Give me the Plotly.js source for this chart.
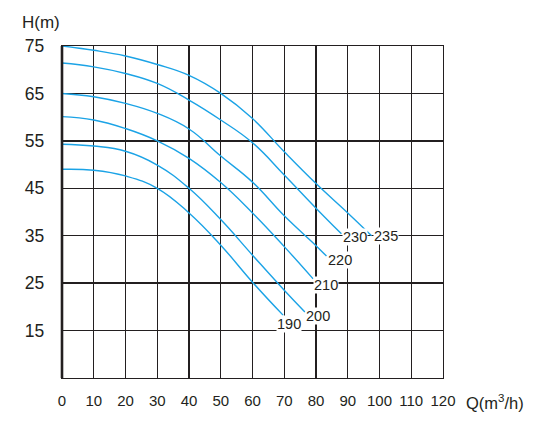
<!DOCTYPE html>
<html>
<head>
<meta charset="utf-8">
<script src="https://cdn.plot.ly/plotly-3.0.1.min.js"></script>
<style>html,body{margin:0;padding:0;background:#fff;}</style>
</head>
<body>
<div id="chart" style="width:552px;height:422px;"></div>
<script>
// ---- data ----
const curveNames = ["190", "200", "210", "220", "230", "235"];
const q190 = [0, 10, 20, 30, 40, 50, 60, 69.7];
const h190 = [49, 48.8, 47.6, 45, 39.8, 33, 25.2, 18.2];
const q200 = [0, 10, 20, 30, 40, 50, 60, 70, 76.5];
const h200 = [54.3, 53.9, 52.8, 49.9, 45, 38.4, 30.9, 23.5, 18.9];
const q210 = [0, 10, 20, 30, 40, 50, 60, 70, 79.1];
const h210 = [60.1, 59.4, 57.6, 55, 51.3, 46.2, 39.8, 32.7, 25.9];
const q220 = [0, 10, 20, 30, 40, 50, 60, 70, 80, 83.3];
const h220 = [65, 64.3, 62.9, 60.8, 57.5, 51.8, 46.3, 39.2, 32.9, 30.7];
const q230 = [0, 10, 20, 30, 40, 50, 60, 70, 80, 88];
const h230 = [71.4, 70.6, 69.2, 67.1, 63.6, 59.4, 54.6, 47.8, 40.8, 35.4];
const q235 = [0, 10, 20, 30, 40, 50, 60, 70, 80, 90, 97.5];
const h235 = [75, 74.1, 72.9, 71.1, 68.8, 65, 59.7, 52.7, 46, 39.8, 35];
const xTickVals = [0, 10, 20, 30, 40, 50, 60, 70, 80, 90, 100, 110, 120];
const yTickVals = [15, 25, 35, 45, 55, 65, 75];
const xTitle = "Q(m<sup>3</sup>/h)";
const yTitle = "H(m)";

// ---- styling ----
const qs = [q190, q200, q210, q220, q230, q235];
const hs = [h190, h200, h210, h220, h230, h235];
const labelStyle = [
  {xanchor: "center", xshift: 5.7, yshift: -9},
  {xanchor: "left", xshift: 0, yshift: -4.3},
  {xanchor: "left", xshift: -0.6, yshift: -5.7},
  {xanchor: "left", xshift: 1, yshift: -3.5},
  {xanchor: "left", xshift: 1, yshift: -3.5},
  {xanchor: "left", xshift: 1, yshift: -0.7}
];
const blue = "#1ba3e6";
const ink = "#231f20";
const sans = "Liberation Sans, Arial, sans-serif";

const traces = curveNames.map((n, i) => ({
  x: qs[i], y: hs[i], name: n, type: "scatter", mode: "lines",
  line: {color: blue, width: 1.4, shape: "spline", smoothing: 1.25},
  hoverinfo: "skip"
}));

const annotations = curveNames.map((n, i) => {
  const k = qs[i].length - 1;
  return Object.assign({
    x: qs[i][k], y: hs[i][k], xref: "x", yref: "y", text: n,
    showarrow: false, yanchor: "middle", bgcolor: "rgba(255,255,255,1)",
    borderpad: 0, font: {family: sans, size: 14.5, color: ink}
  }, labelStyle[i]);
});
annotations.push({
  x: 1, xref: "paper", xanchor: "left", xshift: 21,
  y: 0, yref: "paper", yanchor: "middle", yshift: -24,
  text: xTitle, showarrow: false,
  font: {family: sans, size: 16.5, color: ink}
});
annotations.push({
  x: 0, xref: "paper", xanchor: "center", xshift: -21,
  y: 1, yref: "paper", yanchor: "middle", yshift: 24,
  text: yTitle, showarrow: false,
  font: {family: sans, size: 17, color: ink}
});

const layout = {
  width: 552, height: 422,
  margin: {l: 61.7, r: 108.7, t: 45.8, b: 44, pad: 0},
  paper_bgcolor: "#fff", plot_bgcolor: "#fff",
  showlegend: false,
  xaxis: {
    range: [0, 120], tickvals: xTickVals, ticktext: xTickVals.map(String),
    showgrid: true, gridcolor: ink, gridwidth: 1.3,
    showline: true, mirror: true, linecolor: ink, linewidth: 1.3,
    zeroline: false, ticks: "", ticklabelstandoff: 9,
    tickfont: {family: sans, size: 15, color: ink}, fixedrange: true
  },
  yaxis: {
    range: [5, 75], tickvals: yTickVals, ticktext: yTickVals.map(String),
    showgrid: true, gridcolor: ink, gridwidth: 1.3,
    showline: true, mirror: true, linecolor: ink, linewidth: 1.3,
    zeroline: false, ticks: "", ticklabelstandoff: 13,
    tickfont: {family: sans, size: 17.5, color: ink}, fixedrange: true
  },
  shapes: [{
    type: "line", xref: "paper", yref: "paper", x0: 0, x1: 0, y0: 0, y1: 1,
    line: {color: ink, width: 2.6}, layer: "above"
  }],
  annotations: annotations
};

Plotly.newPlot("chart", traces, layout, {displayModeBar: false, staticPlot: true});
</script>
</body>
</html>
